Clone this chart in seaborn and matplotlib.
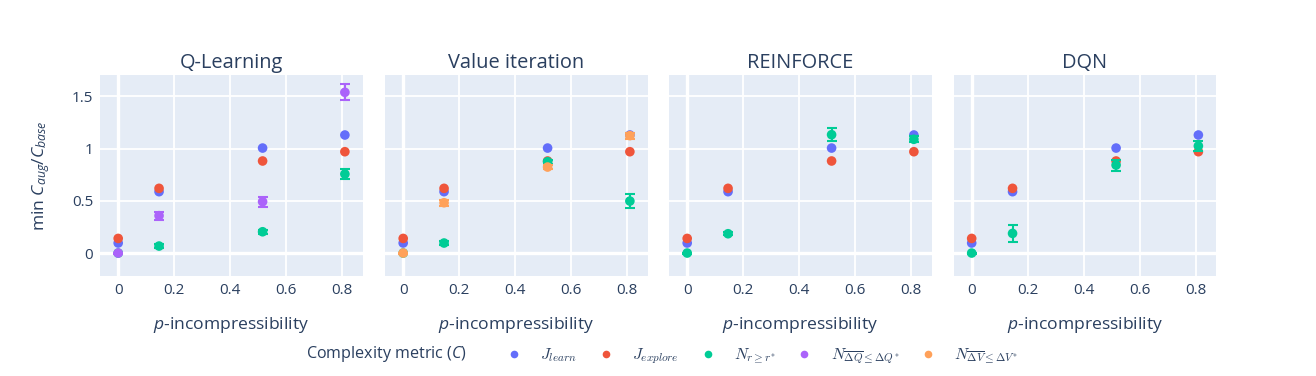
import pandas as pd
import matplotlib.pyplot as plt
import seaborn as sns
from matplotlib.font_manager import FontProperties
from matplotlib.lines import Line2D

# values
p_vals = [0, 0.146, 0.516, 0.81]
algorithms = ["Q-Learning", "Value iteration", "REINFORCE", "DQN"]
metrics = ["learn", "explore", "nr", "ndq", "ndv"]
metric_labels = [r"$J_{learn}$", r"$J_{explore}$", r"$N_{r\geq r^{*}}$",
                 r"$N_{\overline{\Delta Q}\leq \Delta Q^{*}}$",
                 r"$N_{\overline{\Delta V}\leq \Delta V^{*}}$"]
colors = ["#636efa", "#EF553B", "#00cc96", "#ab63fa", "#FFA15A"]

j_learn = [0.096, 0.588, 1.006, 1.131]
j_explore = [0.14, 0.62, 0.882, 0.971]

n_r_ql = [0, 0.067, 0.204, 0.757]
n_r_ql_err = [0.005, 0.02, 0.02, 0.046]
n_r_vi = [0, 0.096, 0.875, 0.498]
n_r_vi_err = [0.005, 0.015, 0.02, 0.068]
n_r_rf = [0, 0.185, 1.134, 1.09]
n_r_rf_err = [0.005, 0.015, 0.064, 0.03]
n_r_dqn = [0, 0.188, 0.843, 1.026]
n_r_dqn_err = [0.005, 0.083, 0.053, 0.051]

n_dq_ql = [0, 0.358, 0.492, 1.54]
n_dq_ql_err = [0.005, 0.037, 0.048, 0.077]
n_dv_vi = [0, 0.482, 0.824, 1.125]
n_dv_vi_err = [0.005, 0.03, 0.02, 0.03]

zeros = [0, 0, 0, 0]
series = {
    "Q-Learning": [("learn", j_learn, zeros), ("explore", j_explore, zeros),
                   ("nr", n_r_ql, n_r_ql_err), ("ndq", n_dq_ql, n_dq_ql_err)],
    "Value iteration": [("learn", j_learn, zeros), ("explore", j_explore, zeros),
                        ("nr", n_r_vi, n_r_vi_err), ("ndv", n_dv_vi, n_dv_vi_err)],
    "REINFORCE": [("learn", j_learn, zeros), ("explore", j_explore, zeros),
                  ("nr", n_r_rf, n_r_rf_err)],
    "DQN": [("learn", j_learn, zeros), ("explore", j_explore, zeros),
            ("nr", n_r_dqn, n_r_dqn_err)],
}

rows = []
for alg, lst in series.items():
    for m, vals, errs in lst:
        for p, v, e in zip(p_vals, vals, errs):
            rows.append({"algorithm": alg, "metric": m, "p": p, "value": v, "err": e})
df = pd.DataFrame(rows)

palette = dict(zip(metrics, colors))
text_color = "#2a3f5f"

sns.set_style("white")
plt.rcParams["font.family"] = ["Open Sans", "DejaVu Sans"]
plt.rcParams["mathtext.fontset"] = "custom"
plt.rcParams["mathtext.rm"] = "Open Sans"
plt.rcParams["mathtext.it"] = "Open Sans:italic"
plt.rcParams["mathtext.bf"] = "Open Sans:bold"

fig = plt.figure(figsize=(13.16, 3.76), dpi=100)
W, H = 1316, 376
lefts = [100, 385, 669, 953.5]
width = 262.5
bottom, top = 276, 75

axes = []
for i, alg in enumerate(algorithms):
    ax = fig.add_axes([lefts[i] / W, (H - bottom) / H, width / W, (bottom - top) / H])
    ax.set_facecolor("#E5ECF6")
    for s in ax.spines.values():
        s.set_visible(False)
    ax.set_xlim(-0.065, 0.873)
    ax.set_ylim(-0.22, 1.706)
    ax.set_xticks([0, 0.2, 0.4, 0.6, 0.8])
    ax.set_xticklabels(["0", "0.2", "0.4", "0.6", "0.8"])
    ax.set_yticks([0, 0.5, 1, 1.5])
    if i == 0:
        ax.set_yticklabels(["0", "0.5", "1", "1.5"])
        ax.set_ylabel(r"min $C_{aug}/C_{base}$", fontsize=12.6, color=text_color, labelpad=14)
    else:
        ax.set_yticklabels([])
    ax.tick_params(length=0, labelsize=11, colors=text_color, pad=5)
    ax.grid(True, color="white", linewidth=1.3)
    ax.axhline(0, color="white", linewidth=2.4, zorder=0.5)
    ax.axvline(0, color="white", linewidth=2.4, zorder=0.5)
    ax.set_axisbelow(True)

    sub = df[df["algorithm"] == alg]
    for k, m in enumerate(metrics):
        d = sub[sub["metric"] == m]
        if d.empty:
            continue
        if d["err"].max() > 0:
            ax.errorbar(d["p"], d["value"], yerr=d["err"], fmt="none",
                        ecolor=palette[m], elinewidth=1.5, capsize=3.5,
                        capthick=1.5, zorder=3 + k)
        sns.scatterplot(data=d, x="p", y="value", color=palette[m], s=48,
                        edgecolor="none", ax=ax, zorder=3.5 + k, legend=False)
    ax.set_xlabel(r"$p$-incompressibility", fontsize=12.6, color=text_color, labelpad=12)
    if i > 0:
        ax.set_ylabel("")
    ax.set_title(alg, fontsize=14.4, color=text_color, pad=5)
    axes.append(ax)

# legend
fig.text(306 / W, 1 - 354 / H, "Complexity metric ($C$)", fontsize=11.6,
         color=text_color, va="center", ha="left")
handles = [Line2D([], [], linestyle="none", marker="o", markersize=5.5,
                  markerfacecolor=c, markeredgecolor="none") for c in colors]
leg_font = FontProperties(family="DejaVu Serif", size=11.5, math_fontfamily="cm")
leg = fig.legend(handles, metric_labels, loc="center left", ncol=5,
                 bbox_to_anchor=(506 / W, 1 - 356 / H), frameon=False,
                 prop=leg_font, handlelength=1.0, handletextpad=1.15,
                 columnspacing=1.3, borderaxespad=0, borderpad=0)
for t in leg.get_texts():
    t.set_color(text_color)

fig.savefig("out.png", dpi=100)
